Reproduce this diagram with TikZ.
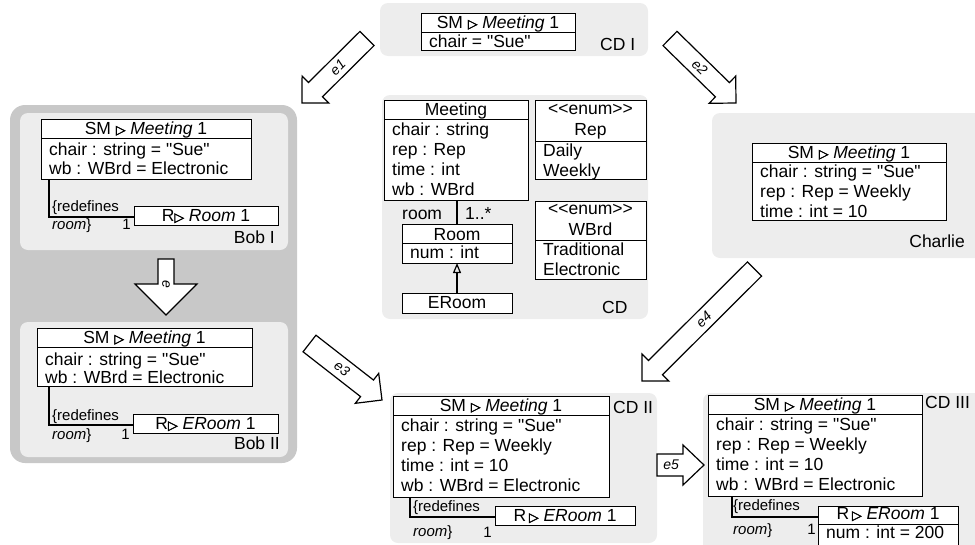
\documentclass[tikz,border=0pt]{standalone}
\usepackage{fontspec}
\setmainfont{Liberation Sans}
\newfontfamily\lib{Liberation Sans}
\newfontfamily\symf{DejaVu Sans}[FakeBold=2.5]
\usetikzlibrary{calc,arrows.meta}
\definecolor{panel}{RGB}{237,237,237}
\definecolor{outerpanel}{RGB}{200,200,200}
\newcommand\tri{{\symf\fontsize{12.5}{12.5}\selectfont ▷}}
\tikzset{
 box/.style={draw, line width=0.8pt, fill=white, inner sep=0pt, outer sep=0pt},
 txt/.style={inner sep=0pt, font=\lib\fontsize{17.5}{20}\selectfont},
 smalltxt/.style={inner sep=0pt, font=\lib\fontsize{15}{17}\selectfont},
 pnl/.style={fill=panel, rounded corners=8pt},
 conn/.style={line width=1.5pt},
 barrow/.style={draw, fill=white, line width=1.2pt, line join=miter},
 elabel/.style={inner sep=0pt, font=\lib\fontsize{14}{14}\selectfont\itshape},
}
% class box: name, x, y, w, h, header
\newcommand\clsbox[6]{%
 \node[box, anchor=north west, minimum width=#4pt, minimum height=#5pt] (#1) at (#2,#3) {};
 \draw[line width=0.8pt] ([yshift=-19pt]#1.north west) -- ([yshift=-19pt]#1.north east);
 \node[txt, anchor=base] (#1h) at ([yshift=-15pt]#1.north) {#6};
}
% body line: name, index, offset from top, text
\newcommand\clsline[4]{%
 \node[txt, anchor=base west] (#1l#2) at ([xshift=8pt,yshift=-#3pt]#1.north west) {#4};
}
% block arrow: name, shaft half, head half, head length, label, rotation, label position
\newcommand\blockarr[7]{%
 \coordinate (#1b) at ($(#1p)!#4pt!(#1t)$);
 \draw[barrow] ($(#1t)!#2pt!90:(#1p)$) -- ($(#1b)!#2pt!90:(#1p)$) -- ($(#1b)!#3pt!90:(#1p)$) -- (#1p)
   -- ($(#1b)!#3pt!-90:(#1p)$) -- ($(#1b)!#2pt!-90:(#1p)$) -- ($(#1t)!#2pt!-90:(#1p)$) -- cycle;
 \node[elabel, rotate=#6] (#1l) at ($(#1t)!#7!(#1p)$) {#5};
}
\newcommand\enumtxt{<\kern0pt<enum>\kern0pt>}
\begin{document}
\begin{tikzpicture}[x=1pt,y=-1pt]
\useasboundingbox (0,0) rectangle (975,544);
\clip (0,0) rectangle (975,544);

% ---------- panels ----------
\fill[pnl] (380,3) rectangle (648,56);
\fill[outerpanel, rounded corners=15pt] (10,105) rectangle (297,463);
\fill[pnl] (20,113) rectangle (288,250);
\fill[pnl] (20,322) rectangle (288,457);
\fill[pnl] (382,95) rectangle (648,319);
\fill[pnl] (712,113) rectangle (985,258);
\fill[pnl] (390,393) rectangle (657,543);
\fill[pnl] (703,393) rectangle (990,560);

% ---------- block arrows ----------
\coordinate (e1t) at (367,38.5); \coordinate (e1p) at (302,103);
\blockarr{e1}{10}{19}{19}{e1}{45}{0.45}
\coordinate (e2t) at (670,38.5); \coordinate (e2p) at (736,103);
\blockarr{e2}{10}{19}{19}{e2}{-45}{0.45}
\coordinate (et) at (166,259); \coordinate (ep) at (166,315);
\blockarr{e}{8}{31}{31}{e}{-90}{0.45}
\coordinate (e3t) at (309.5,343.5); \coordinate (e3p) at (382,400);
\blockarr{e3}{10.5}{19}{19}{e3}{-38}{0.45}
\coordinate (e4t) at (754.5,269); \coordinate (e4p) at (642,381);
\blockarr{e4}{10}{19}{19}{e4}{45}{0.45}
\coordinate (e5t) at (657,465); \coordinate (e5p) at (704,465);
\blockarr{e5}{11}{20}{21}{e5}{0}{0.3}

% ---------- CD I ----------
\clsbox{cdi}{421}{13}{154}{37}{SM \tri{} \textit{Meeting} 1}
\clsline{cdi}{1}{34}{chair = "Sue"}
\node[txt, anchor=base west] (cdilab) at (600,50) {CD I};

% ---------- Bob I ----------
\clsbox{bobi}{41}{119}{210}{60}{SM \tri{} \textit{Meeting} 1}
\clsline{bobi}{1}{36}{chair : string = "Sue"}
\clsline{bobi}{2}{55}{wb : WBrd = Electronic}
\node[box, anchor=north west, minimum width=144pt, minimum height=19pt] (bobir) at (134,206) {};
\node[txt, anchor=base] (bobirt) at ([yshift=-15.5pt]bobir.north) {R\tri{} \textit{Room} 1};
\draw[conn] ([xshift=8pt]bobi.south west) |- ([yshift=-1.5pt]bobir.west);
\node[smalltxt, anchor=base west] (bobired) at (52,211.7) {\{redefines};
\node[smalltxt, anchor=base west] (bobiroom) at (52,229.3) {\textit{room}\}};
\node[smalltxt, anchor=base east] (bobione) at (131,229.3) {1};
\node[txt, anchor=base east] (bobilab) at (275,243) {Bob I};

% ---------- Bob II ----------
\clsbox{bobii}{37}{328}{215}{58}{SM \tri{} \textit{Meeting} 1}
\clsline{bobii}{1}{37}{chair : string = "Sue"}
\clsline{bobii}{2}{55.5}{wb : WBrd = Electronic}
\node[box, anchor=north west, minimum width=145pt, minimum height=19pt] (bobiir) at (133,414) {};
\node[txt, anchor=base] (bobiirt) at ([yshift=-15.5pt]bobiir.north) {R\tri{} \textit{ERoom} 1};
\draw[conn] ([xshift=12pt]bobii.south west) |- ([yshift=-1.5pt]bobiir.west);
\node[smalltxt, anchor=base west] (bobiired) at (52,420.7) {\{redefines};
\node[smalltxt, anchor=base west] (bobiiroom) at (52,439.3) {\textit{room}\}};
\node[smalltxt, anchor=base east] (bobiione) at (130,439.3) {1};
\node[txt, anchor=base east] (bobiilab) at (280,449) {Bob II};

% ---------- CD ----------
\clsbox{mt}{384}{100}{144}{100}{Meeting}
\clsline{mt}{1}{35.5}{chair : string}
\clsline{mt}{2}{55.5}{rep : Rep}
\clsline{mt}{3}{75.5}{time : int}
\clsline{mt}{4}{95}{wb : WBrd}

\node[box, anchor=north west, minimum width=111pt, minimum height=79pt] (rep) at (535,100) {};
\draw[line width=0.8pt] ([yshift=-41pt]rep.north west) -- ([yshift=-41pt]rep.north east);
\node[txt, anchor=base] (repst) at ([yshift=-14pt]rep.north) {\enumtxt};
\node[txt, anchor=base] (repn) at ([yshift=-35pt]rep.north) {Rep};
\clsline{rep}{1}{56}{Daily}
\clsline{rep}{2}{76}{Weekly}

\node[box, anchor=north west, minimum width=111pt, minimum height=78pt] (wbrd) at (535,201) {};
\draw[line width=0.8pt] ([yshift=-39pt]wbrd.north west) -- ([yshift=-39pt]wbrd.north east);
\node[txt, anchor=base] (wbrdst) at ([yshift=-13pt]wbrd.north) {\enumtxt};
\node[txt, anchor=base] (wbrdn) at ([yshift=-34pt]wbrd.north) {WBrd};
\clsline{wbrd}{1}{54}{Traditional}
\clsline{wbrd}{2}{74}{Electronic}

\node[box, anchor=north west, minimum width=110pt, minimum height=39pt] (room) at (402,224) {};
\draw[line width=0.8pt] ([yshift=-19pt]room.north west) -- ([yshift=-19pt]room.north east);
\node[txt, anchor=base] (roomh) at ([yshift=-16pt]room.north) {Room};
\clsline{room}{1}{34.5}{num : int}

\node[box, anchor=north west, minimum width=110pt, minimum height=20pt] (eroom) at (402,293) {};
\node[txt, anchor=base] (eroomh) at ([yshift=-15.5pt]eroom.north) {ERoom};

\draw[line width=1.3pt] (mt.south -| room.north) -- (room.north);
\node[txt, anchor=base west] (assocrole) at (402,219) {room};
\node[txt, anchor=base west] (assocmult) at (465,219) {1..*};
\draw[line width=1.3pt, -{Triangle[open, width=8pt, length=10pt, line width=1.2pt]}] (eroom.north) -- (room.south);
\node[txt, anchor=base west] (cdlab) at (602,313) {CD};

% ---------- Charlie ----------
\clsbox{ch}{752}{143}{194}{77}{SM \tri{} \textit{Meeting} 1}
\clsline{ch}{1}{34}{chair : string = "Sue"}
\clsline{ch}{2}{54}{rep : Rep = Weekly}
\clsline{ch}{3}{74}{time : int = 10}
\node[txt, anchor=base east] (chlab) at (965,247) {Charlie};

% ---------- CD II ----------
\clsbox{ctwo}{393}{396}{216}{101}{SM \tri{} \textit{Meeting} 1}
\clsline{ctwo}{1}{35.7}{chair : string = "Sue"}
\clsline{ctwo}{2}{55.7}{rep : Rep = Weekly}
\clsline{ctwo}{3}{75.7}{time : int = 10}
\clsline{ctwo}{4}{95.7}{wb : WBrd = Electronic}
\node[box, anchor=north west, minimum width=140pt, minimum height=19pt] (ctwor) at (495,506) {};
\node[txt, anchor=base] (ctwort) at ([yshift=-15.5pt]ctwor.north) {R\,\tri{} \textit{ERoom} 1};
\draw[conn] ([xshift=17pt]ctwo.south west) |- ([yshift=-1.5pt]ctwor.west);
\node[smalltxt, anchor=base west] (ctwored) at (413,511.7) {\{redefines};
\node[smalltxt, anchor=base west] (ctworoom) at (413,536.7) {\textit{room}\}};
\node[smalltxt, anchor=base east] (ctwoone) at (492,537) {1};
\node[txt, anchor=base west] (ctwolab) at (613,413) {CD II};

% ---------- CD III ----------
\clsbox{cthree}{708}{395}{214}{101}{SM \tri{} \textit{Meeting} 1}
\clsline{cthree}{1}{35.7}{chair : string = "Sue"}
\clsline{cthree}{2}{55.7}{rep : Rep = Weekly}
\clsline{cthree}{3}{75.7}{time : int = 10}
\clsline{cthree}{4}{95.7}{wb : WBrd = Electronic}
\node[box, anchor=north west, minimum width=140pt, minimum height=42pt] (cthreer) at (818,506) {};
\draw[line width=0.8pt] ([yshift=-18pt]cthreer.north west) -- ([yshift=-18pt]cthreer.north east);
\node[txt, anchor=base] (cthreert) at ([yshift=-13.5pt]cthreer.north) {R\,\tri{} \textit{ERoom} 1};
\clsline{cthreer}{1}{32}{num : int = 200}
\draw[conn] ([xshift=24pt]cthree.south west) |- ([yshift=-11pt]cthreer.north west);
\node[smalltxt, anchor=base west] (cthreered) at (733,510.7) {\{redefines};
\node[smalltxt, anchor=base west] (cthreeroom) at (733,534) {\textit{room}\}};
\node[smalltxt, anchor=base east] (cthreeone) at (816,534) {1};
\node[txt, anchor=base west] (cthreelab) at (925,408) {CD III};
\end{tikzpicture}
\end{document}
